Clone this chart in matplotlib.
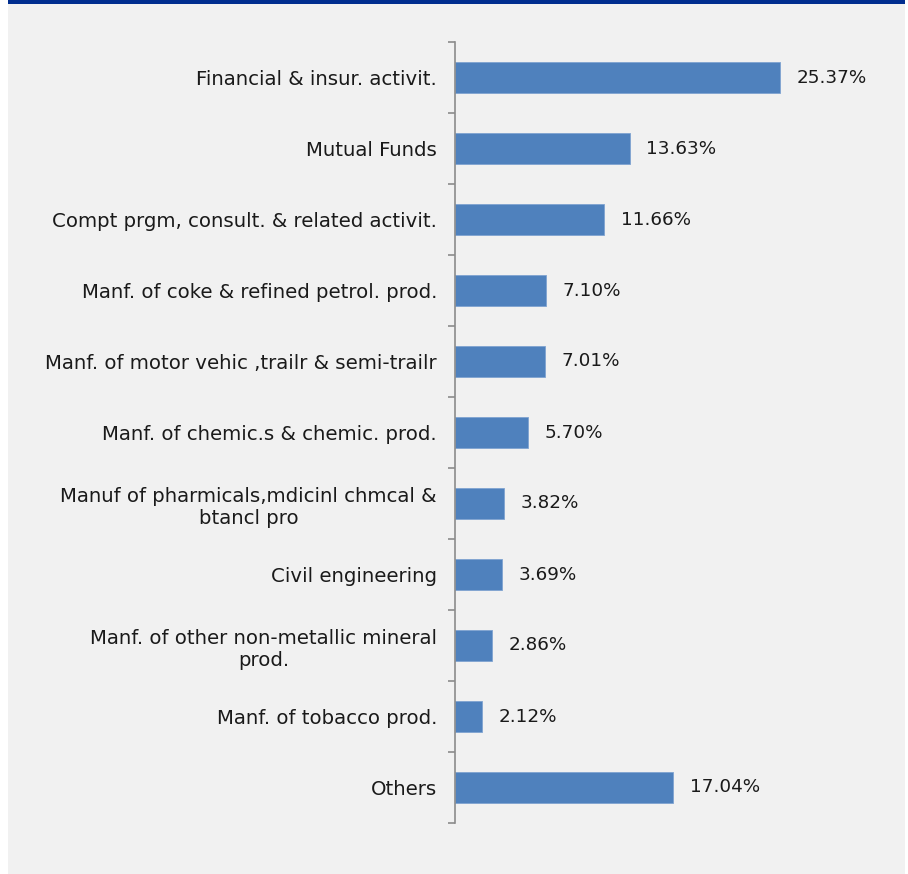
import matplotlib.pyplot as plt
from matplotlib.patches import Rectangle

# Sector shares, top to bottom
sectors = [
    "Financial & insur. activit.",
    "Mutual Funds",
    "Compt prgm, consult. & related activit.",
    "Manf. of coke & refined petrol. prod.",
    "Manf. of motor vehic ,trailr & semi-trailr",
    "Manf. of chemic.s & chemic. prod.",
    "Manuf of pharmicals,mdicinl chmcal &\nbtancl pro",
    "Civil engineering",
    "Manf. of other non-metallic mineral\nprod.",
    "Manf. of tobacco prod.",
    "Others",
]
shares = [25.37, 13.63, 11.66, 7.10, 7.01, 5.70, 3.82, 3.69, 2.86, 2.12, 17.04]

BAR = "#4F81BD"
PANEL = "#F1F1F1"
NAVY = "#002D8F"

plt.rcParams['font.family'] = ['DejaVu Sans']

W, H = 908, 874
fig = plt.figure(figsize=(W / 100, H / 100), dpi=100)
fig.patch.set_facecolor("white")

# grey panel with navy strip on top
fig.add_artist(Rectangle((8 / W, 0), (905 - 8) / W, 1 - 4 / H,
                         transform=fig.transFigure, facecolor=PANEL,
                         edgecolor="none", zorder=0))
fig.add_artist(Rectangle((8 / W, 1 - 4 / H), (905 - 8) / W, 4 / H,
                         transform=fig.transFigure, facecolor=NAVY,
                         edgecolor="none", zorder=0))

x0, x1 = 455, 895
y_top, y_bot = 42, 823
ax = fig.add_axes([x0 / W, 1 - y_bot / H, (x1 - x0) / W, (y_bot - y_top) / H])
ax.set_facecolor("none")

n = len(sectors)
pos = list(range(n))
ax.barh(pos, shares, height=0.43, color=BAR, edgecolor="#7FA3D1",
        linewidth=0.6, zorder=2)
ax.set_ylim(n - 0.5, -0.5)
ax.set_xlim(0, (x1 - x0) / 12.81)

for p, v in zip(pos, shares):
    ax.text(v + 1.3, p, f"{v:.2f}%", va="center", ha="left",
            fontsize=13.2, color="#1a1a1a")

ax.set_yticks(pos)
ax.set_yticklabels(sectors, fontsize=14.2, color="#1a1a1a",
                   multialignment="center")
ax.tick_params(axis="y", which="major", length=0, pad=13)
ax.set_yticks([i - 0.5 for i in range(n + 1)], minor=True)
ax.tick_params(axis="y", which="minor", length=5, width=1.2,
               color="#8c8c8c", direction="out")
ax.set_xticks([])

for s in ("top", "right", "bottom"):
    ax.spines[s].set_visible(False)
ax.spines["left"].set_color("#8c8c8c")
ax.spines["left"].set_linewidth(1.2)

fig.savefig("out.png", dpi=100)
